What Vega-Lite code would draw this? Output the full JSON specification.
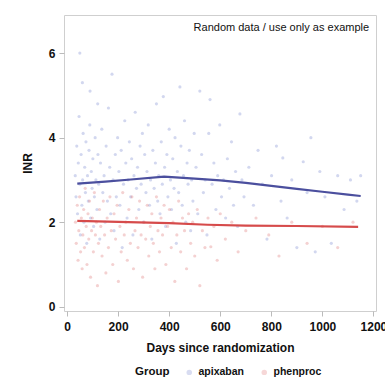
{
  "$schema": "https://vega.github.io/schema/vega-lite/v6.json",
  "width": 312,
  "height": 296,
  "autosize": {"type": "none"},
  "padding": {"left": 64, "top": 15, "right": 9, "bottom": 71},
  "background": "white",
  "config": {
    "view": {"stroke": "#cfcfcf", "strokeWidth": 1},
    "font": "Liberation Sans",
    "axis": {
      "grid": false,
      "domain": false,
      "tickColor": "#bbbbbb",
      "tickSize": 5,
      "labelFont": "Liberation Sans",
      "labelFontWeight": "bold",
      "labelFontSize": 12,
      "labelColor": "#111111",
      "titleFont": "Liberation Sans",
      "titleFontWeight": "bold",
      "titleFontSize": 12,
      "titleColor": "#111111"
    },
    "legend": {
      "orient": "none",
      "legendX": 71,
      "legendY": 352,
      "direction": "horizontal",
      "titleOrient": "left",
      "titlePadding": 14,
      "titleFont": "Liberation Sans",
      "titleFontWeight": "bold",
      "titleFontSize": 11.5,
      "titleColor": "#111111",
      "labelFont": "Liberation Sans",
      "labelFontWeight": "bold",
      "labelFontSize": 10.5,
      "labelColor": "#111111",
      "symbolType": "circle",
      "symbolSize": 30,
      "symbolOpacity": 0.3,
      "columnPadding": 14
    }
  },
  "datasets": {
    "pts": [
      {"group":"apixaban","day":32,"inr":3.1},{"group":"apixaban","day":35,"inr":2.6},{"group":"apixaban","day":38,"inr":3.8},{"group":"apixaban","day":41,"inr":2.2},{"group":"apixaban","day":44,"inr":3.4},{"group":"apixaban","day":47,"inr":4.5},{"group":"apixaban","day":50,"inr":2.9},{"group":"apixaban","day":52,"inr":1.7},{"group":"apixaban","day":55,"inr":3.6},{"group":"apixaban","day":58,"inr":2.4},{"group":"apixaban","day":61,"inr":3.0},{"group":"apixaban","day":63,"inr":4.1},{"group":"apixaban","day":66,"inr":2.0},{"group":"apixaban","day":69,"inr":3.3},{"group":"apixaban","day":72,"inr":2.7},{"group":"apixaban","day":74,"inr":3.9},{"group":"apixaban","day":77,"inr":1.5},{"group":"apixaban","day":80,"inr":3.1},{"group":"apixaban","day":83,"inr":2.5},{"group":"apixaban","day":86,"inr":3.7},{"group":"apixaban","day":89,"inr":4.3},{"group":"apixaban","day":92,"inr":2.1},{"group":"apixaban","day":95,"inr":3.2},{"group":"apixaban","day":98,"inr":2.8},{"group":"apixaban","day":101,"inr":3.5},{"group":"apixaban","day":104,"inr":1.9},{"group":"apixaban","day":107,"inr":2.6},{"group":"apixaban","day":110,"inr":4.0},{"group":"apixaban","day":113,"inr":3.0},{"group":"apixaban","day":117,"inr":2.3},{"group":"apixaban","day":121,"inr":3.6},{"group":"apixaban","day":124,"inr":2.9},{"group":"apixaban","day":128,"inr":1.6},{"group":"apixaban","day":131,"inr":3.4},
      {"group":"apixaban","day":50,"inr":6.0},{"group":"apixaban","day":90,"inr":5.1},{"group":"apixaban","day":120,"inr":4.8},{"group":"apixaban","day":60,"inr":5.3},
      {"group":"apixaban","day":136,"inr":4.2},{"group":"apixaban","day":140,"inr":2.7},{"group":"apixaban","day":145,"inr":3.1},{"group":"apixaban","day":149,"inr":2.0},{"group":"apixaban","day":153,"inr":3.8},{"group":"apixaban","day":158,"inr":2.5},{"group":"apixaban","day":162,"inr":4.7},{"group":"apixaban","day":167,"inr":3.3},{"group":"apixaban","day":171,"inr":2.2},{"group":"apixaban","day":176,"inr":5.5},{"group":"apixaban","day":180,"inr":3.0},{"group":"apixaban","day":184,"inr":1.8},{"group":"apixaban","day":189,"inr":3.6},{"group":"apixaban","day":193,"inr":2.6},{"group":"apixaban","day":198,"inr":4.0},{"group":"apixaban","day":203,"inr":3.2},{"group":"apixaban","day":207,"inr":2.4},{"group":"apixaban","day":212,"inr":3.7},{"group":"apixaban","day":216,"inr":1.4},{"group":"apixaban","day":221,"inr":2.9},{"group":"apixaban","day":226,"inr":4.4},{"group":"apixaban","day":230,"inr":3.4},{"group":"apixaban","day":235,"inr":2.1},{"group":"apixaban","day":239,"inr":3.0},{"group":"apixaban","day":244,"inr":3.9},{"group":"apixaban","day":249,"inr":2.6},{"group":"apixaban","day":253,"inr":3.5},{"group":"apixaban","day":258,"inr":1.7},{"group":"apixaban","day":262,"inr":3.1},{"group":"apixaban","day":267,"inr":4.6},{"group":"apixaban","day":272,"inr":2.8},{"group":"apixaban","day":276,"inr":3.3},{"group":"apixaban","day":281,"inr":2.3},{"group":"apixaban","day":286,"inr":3.8},{"group":"apixaban","day":290,"inr":2.9},{"group":"apixaban","day":295,"inr":4.1},{"group":"apixaban","day":299,"inr":2.0},{"group":"apixaban","day":304,"inr":3.6},{"group":"apixaban","day":309,"inr":2.7},{"group":"apixaban","day":313,"inr":3.2},{"group":"apixaban","day":318,"inr":4.3},{"group":"apixaban","day":323,"inr":2.4},{"group":"apixaban","day":327,"inr":3.0},{"group":"apixaban","day":332,"inr":1.6},{"group":"apixaban","day":336,"inr":3.7},{"group":"apixaban","day":341,"inr":2.8},{"group":"apixaban","day":346,"inr":3.4},{"group":"apixaban","day":350,"inr":4.8},{"group":"apixaban","day":355,"inr":2.5},{"group":"apixaban","day":359,"inr":3.1},{"group":"apixaban","day":364,"inr":2.2},{"group":"apixaban","day":369,"inr":3.9},{"group":"apixaban","day":373,"inr":2.9},{"group":"apixaban","day":377,"inr":4.97},{"group":"apixaban","day":382,"inr":3.3},{"group":"apixaban","day":386,"inr":1.9},{"group":"apixaban","day":391,"inr":3.6},{"group":"apixaban","day":395,"inr":2.6},{"group":"apixaban","day":400,"inr":4.2},{"group":"apixaban","day":405,"inr":3.0},{"group":"apixaban","day":409,"inr":2.3},{"group":"apixaban","day":414,"inr":3.5},{"group":"apixaban","day":419,"inr":2.8},{"group":"apixaban","day":423,"inr":4.0},{"group":"apixaban","day":428,"inr":1.5},{"group":"apixaban","day":432,"inr":3.2},{"group":"apixaban","day":437,"inr":2.7},{"group":"apixaban","day":442,"inr":5.2},{"group":"apixaban","day":446,"inr":3.8},{"group":"apixaban","day":451,"inr":2.4},{"group":"apixaban","day":456,"inr":3.1},{"group":"apixaban","day":460,"inr":4.4},{"group":"apixaban","day":465,"inr":2.0},{"group":"apixaban","day":470,"inr":3.4},{"group":"apixaban","day":474,"inr":2.9},{"group":"apixaban","day":479,"inr":3.7},{"group":"apixaban","day":484,"inr":1.8},{"group":"apixaban","day":488,"inr":3.0},{"group":"apixaban","day":493,"inr":2.5},{"group":"apixaban","day":498,"inr":4.1},
      {"group":"apixaban","day":505,"inr":3.3},{"group":"apixaban","day":512,"inr":2.2},{"group":"apixaban","day":520,"inr":5.1},{"group":"apixaban","day":527,"inr":3.6},{"group":"apixaban","day":534,"inr":2.7},{"group":"apixaban","day":541,"inr":3.0},{"group":"apixaban","day":548,"inr":1.7},{"group":"apixaban","day":555,"inr":4.1},{"group":"apixaban","day":560,"inr":4.9},{"group":"apixaban","day":568,"inr":2.9},{"group":"apixaban","day":575,"inr":3.4},{"group":"apixaban","day":583,"inr":2.3},{"group":"apixaban","day":590,"inr":3.1},{"group":"apixaban","day":598,"inr":4.3},{"group":"apixaban","day":605,"inr":2.6},{"group":"apixaban","day":613,"inr":3.0},{"group":"apixaban","day":621,"inr":2.1},{"group":"apixaban","day":628,"inr":3.5},{"group":"apixaban","day":636,"inr":2.8},{"group":"apixaban","day":644,"inr":3.9},{"group":"apixaban","day":652,"inr":2.4},{"group":"apixaban","day":660,"inr":3.2},{"group":"apixaban","day":668,"inr":1.9},{"group":"apixaban","day":677,"inr":4.56},{"group":"apixaban","day":685,"inr":3.0},{"group":"apixaban","day":693,"inr":2.6},
      {"group":"apixaban","day":712,"inr":3.3},{"group":"apixaban","day":730,"inr":2.4},{"group":"apixaban","day":748,"inr":3.7},{"group":"apixaban","day":765,"inr":2.9},{"group":"apixaban","day":783,"inr":1.6},{"group":"apixaban","day":801,"inr":3.1},{"group":"apixaban","day":820,"inr":3.8},{"group":"apixaban","day":838,"inr":2.5},{"group":"apixaban","day":845,"inr":3.52},{"group":"apixaban","day":862,"inr":2.1},{"group":"apixaban","day":880,"inr":3.0},{"group":"apixaban","day":900,"inr":1.4},{"group":"apixaban","day":925,"inr":3.43},{"group":"apixaban","day":940,"inr":2.7},{"group":"apixaban","day":955,"inr":4.0},{"group":"apixaban","day":972,"inr":1.3},{"group":"apixaban","day":990,"inr":3.2},{"group":"apixaban","day":1010,"inr":2.6},{"group":"apixaban","day":1035,"inr":1.5},{"group":"apixaban","day":1060,"inr":3.1},{"group":"apixaban","day":1085,"inr":2.3},{"group":"apixaban","day":1110,"inr":3.0},{"group":"apixaban","day":1135,"inr":2.5},{"group":"apixaban","day":1150,"inr":3.1},
      {"group":"phenproc","day":33,"inr":2.0},{"group":"phenproc","day":36,"inr":1.5},{"group":"phenproc","day":40,"inr":2.4},{"group":"phenproc","day":43,"inr":1.1},{"group":"phenproc","day":46,"inr":1.8},{"group":"phenproc","day":49,"inr":2.6},{"group":"phenproc","day":53,"inr":1.3},{"group":"phenproc","day":56,"inr":2.1},{"group":"phenproc","day":59,"inr":0.9},{"group":"phenproc","day":62,"inr":1.7},{"group":"phenproc","day":65,"inr":2.3},{"group":"phenproc","day":68,"inr":1.4},{"group":"phenproc","day":71,"inr":2.8},{"group":"phenproc","day":75,"inr":1.9},{"group":"phenproc","day":78,"inr":1.0},{"group":"phenproc","day":82,"inr":2.2},{"group":"phenproc","day":85,"inr":1.6},{"group":"phenproc","day":88,"inr":2.5},{"group":"phenproc","day":92,"inr":0.7},{"group":"phenproc","day":96,"inr":1.8},{"group":"phenproc","day":99,"inr":2.1},{"group":"phenproc","day":103,"inr":1.3},{"group":"phenproc","day":107,"inr":2.7},{"group":"phenproc","day":111,"inr":1.7},{"group":"phenproc","day":115,"inr":2.0},{"group":"phenproc","day":119,"inr":0.5},{"group":"phenproc","day":123,"inr":1.5},{"group":"phenproc","day":127,"inr":2.3},{"group":"phenproc","day":132,"inr":1.9},{"group":"phenproc","day":137,"inr":1.2},{"group":"phenproc","day":142,"inr":2.5},{"group":"phenproc","day":147,"inr":1.7},{"group":"phenproc","day":152,"inr":0.8},{"group":"phenproc","day":157,"inr":2.1},{"group":"phenproc","day":162,"inr":1.4},{"group":"phenproc","day":168,"inr":2.6},{"group":"phenproc","day":173,"inr":1.8},{"group":"phenproc","day":179,"inr":1.0},{"group":"phenproc","day":184,"inr":2.2},{"group":"phenproc","day":190,"inr":1.6},{"group":"phenproc","day":196,"inr":2.4},{"group":"phenproc","day":201,"inr":0.6},{"group":"phenproc","day":207,"inr":1.9},{"group":"phenproc","day":212,"inr":1.3},{"group":"phenproc","day":218,"inr":2.7},{"group":"phenproc","day":224,"inr":1.7},{"group":"phenproc","day":230,"inr":2.0},{"group":"phenproc","day":236,"inr":1.1},{"group":"phenproc","day":242,"inr":2.3},{"group":"phenproc","day":248,"inr":1.5},{"group":"phenproc","day":254,"inr":2.6},{"group":"phenproc","day":260,"inr":0.9},{"group":"phenproc","day":266,"inr":1.8},{"group":"phenproc","day":272,"inr":2.1},{"group":"phenproc","day":278,"inr":1.4},{"group":"phenproc","day":284,"inr":2.5},{"group":"phenproc","day":290,"inr":1.7},{"group":"phenproc","day":296,"inr":0.7},{"group":"phenproc","day":302,"inr":2.0},{"group":"phenproc","day":308,"inr":1.6},{"group":"phenproc","day":314,"inr":2.4},{"group":"phenproc","day":320,"inr":1.2},{"group":"phenproc","day":326,"inr":1.9},{"group":"phenproc","day":332,"inr":2.2},{"group":"phenproc","day":338,"inr":1.5},{"group":"phenproc","day":344,"inr":0.9},{"group":"phenproc","day":350,"inr":2.6},{"group":"phenproc","day":356,"inr":1.8},{"group":"phenproc","day":362,"inr":1.3},{"group":"phenproc","day":368,"inr":2.1},{"group":"phenproc","day":374,"inr":1.7},{"group":"phenproc","day":380,"inr":2.4},{"group":"phenproc","day":387,"inr":1.0},{"group":"phenproc","day":394,"inr":1.9},{"group":"phenproc","day":401,"inr":2.3},{"group":"phenproc","day":408,"inr":1.4},{"group":"phenproc","day":415,"inr":2.0},{"group":"phenproc","day":422,"inr":0.6},{"group":"phenproc","day":430,"inr":1.7},{"group":"phenproc","day":437,"inr":2.5},{"group":"phenproc","day":445,"inr":1.3},{"group":"phenproc","day":452,"inr":2.1},{"group":"phenproc","day":460,"inr":1.8},{"group":"phenproc","day":468,"inr":0.9},{"group":"phenproc","day":476,"inr":2.2},{"group":"phenproc","day":484,"inr":1.5},{"group":"phenproc","day":492,"inr":2.0},{"group":"phenproc","day":500,"inr":1.2},{"group":"phenproc","day":510,"inr":2.3},{"group":"phenproc","day":520,"inr":0.5},{"group":"phenproc","day":530,"inr":1.8},{"group":"phenproc","day":540,"inr":1.4},{"group":"phenproc","day":552,"inr":2.1},{"group":"phenproc","day":563,"inr":1.42},{"group":"phenproc","day":575,"inr":1.9},{"group":"phenproc","day":588,"inr":1.1},{"group":"phenproc","day":600,"inr":2.2},{"group":"phenproc","day":620,"inr":1.6},{"group":"phenproc","day":645,"inr":2.0},{"group":"phenproc","day":670,"inr":1.3},{"group":"phenproc","day":700,"inr":1.8},{"group":"phenproc","day":740,"inr":2.1},{"group":"phenproc","day":790,"inr":1.7},{"group":"phenproc","day":830,"inr":1.2},{"group":"phenproc","day":880,"inr":2.0},{"group":"phenproc","day":940,"inr":1.5},{"group":"phenproc","day":1000,"inr":1.9},{"group":"phenproc","day":1060,"inr":1.4},{"group":"phenproc","day":1120,"inr":2.0}
    ],
    "fit_a": [
      {"day":40,"inr":2.91},{"day":150,"inr":2.96},{"day":250,"inr":3.01},{"day":380,"inr":3.08},{"day":500,"inr":3.03},{"day":600,"inr":2.99},{"day":700,"inr":2.93},{"day":800,"inr":2.86},{"day":900,"inr":2.79},{"day":1000,"inr":2.72},{"day":1100,"inr":2.65},{"day":1150,"inr":2.62}
    ],
    "fit_p": [
      {"day":40,"inr":2.03},{"day":200,"inr":2.01},{"day":400,"inr":1.98},{"day":550,"inr":1.94},{"day":700,"inr":1.92},{"day":900,"inr":1.91},{"day":1140,"inr":1.89}
    ],
    "note": [{"day": 1183, "inr": 6.6, "label": "Random data / use only as example"}]
  },
  "encoding": {
    "x": {"field": "day", "type": "quantitative", "title": "Days since randomization",
          "scale": {"domain": [-12, 1210], "nice": false, "zero": false},
          "axis": {"values": [0, 200, 400, 600, 800, 1000, 1200], "format": "d", "labelPadding": 5, "titlePadding": 10, "labelFlush": false}},
    "y": {"field": "inr", "type": "quantitative", "title": "INR",
          "scale": {"domain": [-0.1, 6.9], "nice": false, "zero": false},
          "axis": {"values": [0, 2, 4, 6], "labelPadding": 4, "titlePadding": 14}}
  },
  "layer": [
    {
      "data": {"name": "pts"},
      "mark": {"type": "circle", "size": 10, "opacity": 0.35},
      "encoding": {
        "color": {"field": "group", "type": "nominal", "title": "Group",
                  "scale": {"domain": ["apixaban", "phenproc"], "range": ["#7f8bd0", "#e07a7a"]}}
      }
    },
    {
      "data": {"name": "fit_a"},
      "mark": {"type": "line", "strokeWidth": 2.2, "color": "#4b4f9e"},
      "encoding": {}
    },
    {
      "data": {"name": "fit_p"},
      "mark": {"type": "line", "strokeWidth": 2.2, "color": "#d64b4b"},
      "encoding": {}
    },
    {
      "data": {"name": "note"},
      "mark": {"type": "text", "align": "right", "baseline": "middle", "font": "Liberation Sans", "fontSize": 11, "color": "#111111"},
      "encoding": {"text": {"field": "label"}}
    }
  ]
}
